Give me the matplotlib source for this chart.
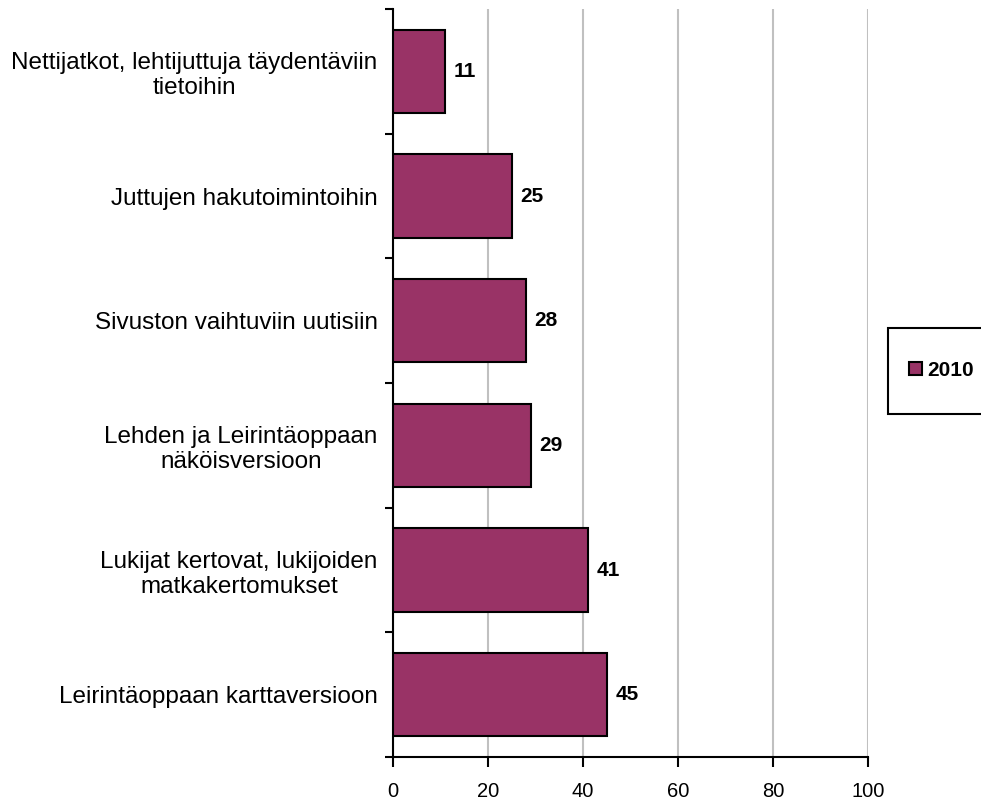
import matplotlib.pyplot as plt
from matplotlib.patches import Rectangle
from matplotlib.ticker import FixedLocator

categories = [
    "Nettijatkot, lehtijuttuja täydentäviin\ntietoihin",
    "Juttujen hakutoimintoihin",
    "Sivuston vaihtuviin uutisiin",
    "Lehden ja Leirintäoppaan\nnäköisversioon",
    "Lukijat kertovat, lukijoiden\nmatkakertomukset",
    "Leirintäoppaan karttaversioon",
]
values_2010 = [11, 25, 28, 29, 41, 45]
x_ticks = [0, 20, 40, 60, 80, 100]
series_label = "2010"

plt.rcParams["font.family"] = ["Liberation Sans", "DejaVu Sans"]

fig = plt.figure(figsize=(9.81, 8.05), dpi=100)
ax = fig.add_axes([393 / 981, 48 / 805, 475 / 981, 748 / 805])

positions = list(range(len(categories)))
bars = ax.barh(positions, values_2010, height=0.67, color="#993366",
               edgecolor="black", linewidth=1.5, label=series_label, zorder=3)

for pos, val in zip(positions, values_2010):
    ax.text(val + 1.8, pos, str(val), va="center", ha="left",
            fontsize=15, fontweight="bold", zorder=4)

ax.set_xlim(0, 100)
ax.set_ylim(len(categories) - 0.5, -0.5)
ax.set_xticks(x_ticks)
ax.set_xticklabels([str(t) for t in x_ticks], fontsize=14.5)
ax.set_yticks(positions)
ax.set_yticklabels(categories, fontsize=17.5, multialignment="center")
ax.yaxis.set_minor_locator(FixedLocator([p - 0.5 for p in positions] + [len(categories) - 0.5]))

ax.tick_params(axis="y", which="major", length=0, pad=11)
ax.tick_params(axis="y", which="minor", length=6, width=1.5, direction="out")
ax.tick_params(axis="x", which="major", length=7, width=1.5, direction="out", pad=11)

ax.grid(axis="x", color="#c0c0c0", linewidth=1.5, zorder=0)
ax.set_axisbelow(True)
for side in ("top", "right"):
    ax.spines[side].set_visible(False)
for side in ("left", "bottom"):
    ax.spines[side].set_linewidth(1.5)

# legend box, partly cut off at the right edge like the original
fig.add_artist(Rectangle((888 / 981, 1 - 414 / 805), 100 / 981, 86 / 805,
                         transform=fig.transFigure, facecolor="white",
                         edgecolor="black", linewidth=1.5))
fig.legend(handles=[bars], labels=[series_label], loc="center left",
           bbox_to_anchor=(890 / 981, 1 - 370 / 805), frameon=False,
           handlelength=0.65, handleheight=0.6, handletextpad=0.25,
           prop={"size": 15, "weight": "bold"})

fig.savefig("out.png", dpi=100)
